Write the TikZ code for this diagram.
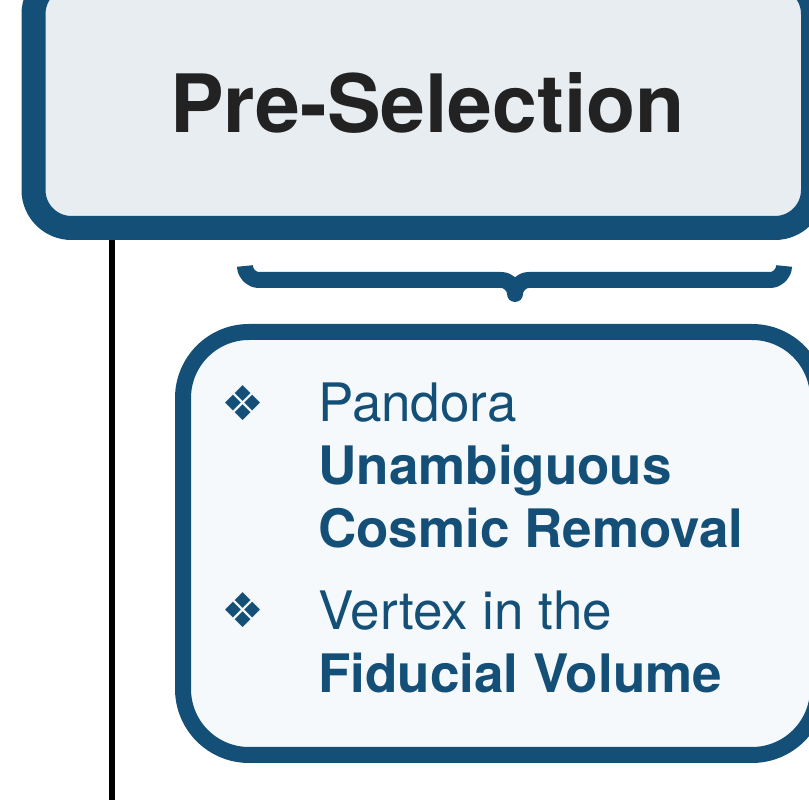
\documentclass[tikz,border=0pt]{standalone}
\usepackage{fontspec}
\setmainfont{TeX Gyre Heros}
\newfontfamily\symfont{DejaVu Sans}
\usetikzlibrary{backgrounds}
\definecolor{navy}{HTML}{144F78}
\definecolor{topfill}{HTML}{E8EDF2}
\definecolor{listfill}{HTML}{F6F9FB}
\definecolor{inkdark}{HTML}{222222}
\tikzset{
  topbox/.style={draw=navy, line width=24pt, fill=topfill, rounded corners=38pt,
    inner sep=0pt, minimum width=779.5pt, minimum height=252pt},
  listbox/.style={draw=navy, line width=16pt, fill=listfill, rounded corners=66pt,
    inner sep=0pt, minimum width=635pt, minimum height=423pt},
  titletext/.style={inner sep=0pt, text=inkdark, font=\fontsize{80.5pt}{90pt}\selectfont\bfseries},
  itemtext/.style={inner sep=0pt, text=navy, font=\fontsize{53pt}{63pt}\selectfont},
  itembold/.style={itemtext, font=\fontsize{53pt}{63pt}\selectfont\bfseries},
  bulletmark/.style={inner sep=0pt, text=navy, font=\symfont\fontsize{48pt}{50pt}\selectfont},
  stem/.style={draw=black, line width=6pt},
  bracepath/.style={draw=navy, line width=16pt, line join=round},
}
\begin{document}
\begin{tikzpicture}[x=1pt,y=1pt]
\useasboundingbox (0,0) rectangle (809,800);
\clip (0,0) rectangle (809,800);
\node[topbox] (pre) at (423.25,698) {};
\node[titletext, anchor=base] (ttl) at (427.5,667) {Pre-Selection};
\coordinate (stemend) at (111.5,0);
\begin{scope}[on background layer]
  \draw[stem] (pre.center -| stemend) -- (stemend);
\end{scope}
% brace
\coordinate (bl) at (245,534);
\coordinate (br) at (784,534);
\coordinate (tip) at (515,506);
\draw[bracepath] (bl) arc[start angle=180, end angle=270, radius=14]
  -- ([xshift=-14pt,yshift=14pt]tip) arc[start angle=90, end angle=0, radius=14];
\draw[bracepath] (tip) arc[start angle=180, end angle=90, radius=14]
  -- ([xshift=-14pt,yshift=-14pt]br) arc[start angle=270, end angle=360, radius=14];
\fill[navy] (tip) circle[radius=8];
\node[listbox] (list) at (500.5,256.5) {};
\node[bulletmark] (b1) at (243,396.5) {❖};
\node[itemtext, anchor=base west] (l1) at (318,378) {Pandora};
\node[itembold, anchor=base west] (l2) at (318,315) {Unambiguous};
\node[itembold, anchor=base west] (l3) at (318,252) {Cosmic Removal};
\node[bulletmark] (b2) at (243,189.5) {❖};
\node[itemtext, anchor=base west] (l4) at (318,170) {Vertex in the};
\node[itembold, anchor=base west] (l5) at (318,107) {Fiducial Volume};
\end{tikzpicture}
\end{document}
